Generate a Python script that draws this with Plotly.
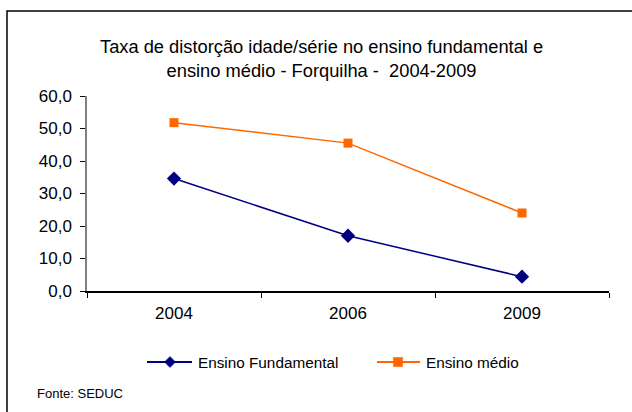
import plotly.graph_objects as go

anos = ["2004", "2006", "2009"]
fundamental = [34.6, 17.0, 4.4]
medio = [51.8, 45.5, 24.0]
y_ticks = [0, 10, 20, 30, 40, 50, 60]
series_names = ["Ensino Fundamental", "Ensino médio"]
series_colors = ["#000080", "#FF6600"]

W, H = 632, 412
L, R, T, B = 87, 23, 96, 121
pw, ph = W - L - R, H - T - B

def px(x):
    return (x - L) / pw

def py(y):
    return (H - B - y) / ph

FONT = "Liberation Sans, Arial, sans-serif"

fig = go.Figure()
fig.add_trace(go.Scatter(
    x=anos, y=fundamental, mode="lines+markers", name=series_names[0],
    line=dict(color=series_colors[0], width=1.5),
    marker=dict(symbol="diamond", size=11, color=series_colors[0]),
))
fig.add_trace(go.Scatter(
    x=anos, y=medio, mode="lines+markers", name=series_names[1],
    line=dict(color=series_colors[1], width=1.5),
    marker=dict(symbol="square", size=9, color=series_colors[1]),
))

# manual legend (sample line + marker + label)
LEG_Y = 362
shapes = [
    dict(type="rect", xref="paper", yref="paper",
         x0=px(7), y0=py(11), x1=px(700), y1=py(500),
         line=dict(color="black", width=1.5), layer="below"),
    dict(type="line", xref="paper", yref="paper",
         x0=px(147), x1=px(192), y0=py(LEG_Y), y1=py(LEG_Y),
         line=dict(color=series_colors[0], width=2)),
    dict(type="line", xref="paper", yref="paper",
         x0=px(377), x1=px(420), y0=py(LEG_Y), y1=py(LEG_Y),
         line=dict(color=series_colors[1], width=2)),
]
cx, d = 170, 5.5
diamond = "M {} {} L {} {} L {} {} L {} {} Z".format(
    px(cx - d), py(LEG_Y), px(cx), py(LEG_Y - d), px(cx + d), py(LEG_Y), px(cx), py(LEG_Y + d))
shapes.append(dict(type="path", xref="paper", yref="paper", path=diamond,
                   fillcolor=series_colors[0], line=dict(color=series_colors[0], width=0.5)))
sx, s = 398, 4.6
shapes.append(dict(type="rect", xref="paper", yref="paper",
                   x0=px(sx - s), x1=px(sx + s), y0=py(LEG_Y - s), y1=py(LEG_Y + s),
                   fillcolor=series_colors[1], line=dict(color=series_colors[1], width=0.5)))

fig.update_layout(
    width=W, height=H,
    margin=dict(l=L, r=R, t=T, b=B, pad=0),
    paper_bgcolor="white", plot_bgcolor="white",
    separators=",.",
    font=dict(family=FONT, color="black"),
    showlegend=False,
    xaxis=dict(
        type="category", range=[-0.5, 2.5], tickson="boundaries",
        ticks="outside", ticklen=5, tickcolor="black", tickwidth=1,
        ticklabelstandoff=6,
        showline=True, linecolor="black", linewidth=1.5,
        showgrid=False, zeroline=False,
        tickfont=dict(size=17, family=FONT), fixedrange=True,
    ),
    yaxis=dict(
        range=[0, 60], tickvals=y_ticks, tickformat=".1f",
        ticks="outside", ticklen=5, tickcolor="black", tickwidth=1,
        ticklabelstandoff=5,
        showline=True, linecolor="#808080", linewidth=1.5,
        showgrid=False, zeroline=False,
        tickfont=dict(size=17, family=FONT), fixedrange=True,
    ),
    annotations=[
        dict(text="Taxa de distorção idade/série no ensino fundamental e<br>ensino médio - Forquilha -  2004-2009",
             x=px(321), y=py(58), xref="paper", yref="paper",
             xanchor="center", yanchor="middle", showarrow=False,
             font=dict(size=18.3, family=FONT)),
        dict(text=series_names[0], x=px(196), y=py(LEG_Y), xref="paper", yref="paper",
             xanchor="left", yanchor="middle", showarrow=False,
             font=dict(size=15.3, family=FONT)),
        dict(text=series_names[1], x=px(424), y=py(LEG_Y), xref="paper", yref="paper",
             xanchor="left", yanchor="middle", showarrow=False,
             font=dict(size=15.3, family=FONT)),
        dict(text="Fonte: SEDUC", x=px(35), y=py(393), xref="paper", yref="paper",
             xanchor="left", yanchor="middle", showarrow=False,
             font=dict(size=13, family=FONT)),
    ],
    shapes=shapes,
)

fig.write_html("out.html", config={"displayModeBar": False},
               post_script="document.body.style.margin='0';document.body.style.overflow='hidden';")
